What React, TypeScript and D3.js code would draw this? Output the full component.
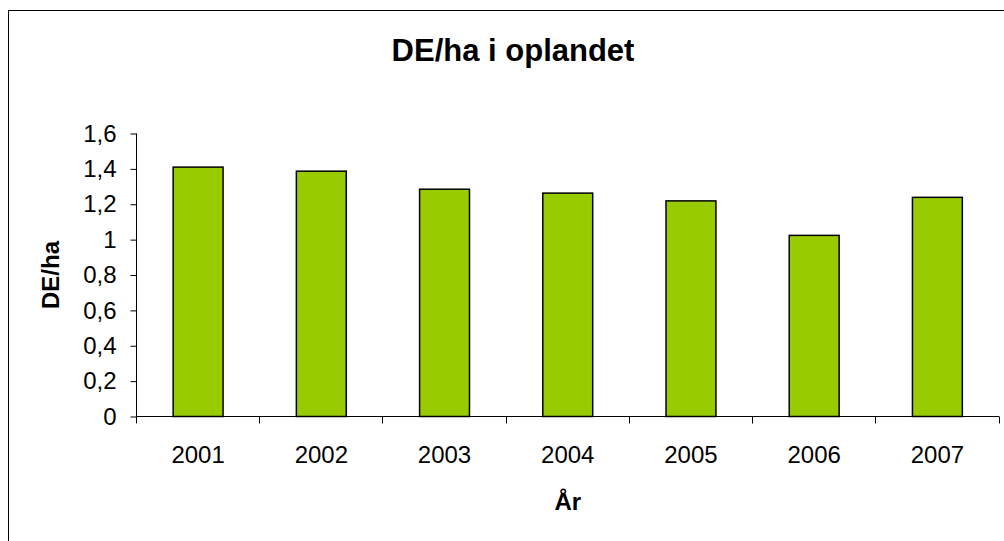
import React, { useEffect, useRef } from 'react';
import * as d3 from 'd3';

const years: string[] = ['2001', '2002', '2003', '2004', '2005', '2006', '2007'];
const values: number[] = [1.41, 1.387, 1.285, 1.263, 1.219, 1.024, 1.239];
const yTicks: number[] = [0, 0.2, 0.4, 0.6, 0.8, 1, 1.2, 1.4, 1.6];

const width = 1004;
const height = 541;

const App: React.FC = () => {
  const svgRef = useRef<SVGSVGElement | null>(null);

  useEffect(() => {
    if (!svgRef.current) return;
    const svg = d3.select(svgRef.current);
    svg.selectAll('*').remove();

    const margin = { top: 133.5, right: 5, bottom: 124.5, left: 136.5 };
    const innerWidth = width - margin.left - margin.right;
    const innerHeight = height - margin.top - margin.bottom;

    // outer chart border (runs off the right and bottom edge)
    svg
      .append('rect')
      .attr('x', 8.5)
      .attr('y', 10.5)
      .attr('width', 1000)
      .attr('height', 540)
      .attr('fill', 'none')
      .attr('stroke', '#000')
      .attr('stroke-width', 1);

    const xScale = d3
      .scaleBand<string>()
      .domain(years)
      .range([0, innerWidth])
      .paddingInner(0.595)
      .paddingOuter(0.2975);

    const yScale = d3.scaleLinear().domain([0, 1.6]).range([innerHeight, 0]);

    const g = svg.append('g').attr('transform', `translate(${margin.left},${margin.top})`);

    g.selectAll('rect.bar')
      .data(values)
      .enter()
      .append('rect')
      .attr('class', 'bar')
      .attr('x', (_d, i) => xScale(years[i])!)
      .attr('y', d => yScale(d))
      .attr('width', xScale.bandwidth())
      .attr('height', d => innerHeight - yScale(d))
      .attr('fill', '#99CC00')
      .attr('stroke', '#000')
      .attr('stroke-width', 1.5);

    const font = '"Liberation Sans", Arial, sans-serif';

    // y axis
    const yAxis = d3
      .axisLeft(yScale)
      .tickValues(yTicks)
      .tickSize(6)
      .tickPadding(14)
      .tickFormat(d => String(d).replace('.', ','));

    const yG = g.append('g').call(yAxis);
    yG.select('.domain').attr('stroke', '#000').attr('d', `M0,0V${innerHeight}`);
    yG.selectAll('.tick line').attr('stroke', '#000');
    yG.selectAll('.tick text')
      .attr('fill', '#000')
      .style('font-family', font)
      .style('font-size', '24px');

    // x axis: ticks between categories
    const step = xScale.step();
    const boundaries = d3.range(years.length + 1).map(i => i * step);
    const xG = g.append('g').attr('transform', `translate(0,${innerHeight})`);
    xG.append('line')
      .attr('x1', 0)
      .attr('x2', innerWidth)
      .attr('stroke', '#000');
    xG.selectAll('line.tick')
      .data(boundaries)
      .enter()
      .append('line')
      .attr('class', 'tick')
      .attr('x1', d => Math.round(d) )
      .attr('x2', d => Math.round(d))
      .attr('y1', 0)
      .attr('y2', 7)
      .attr('stroke', '#000');
    xG.selectAll('text.label')
      .data(years)
      .enter()
      .append('text')
      .attr('class', 'label')
      .attr('x', d => xScale(d)! + xScale.bandwidth() / 2)
      .attr('y', 46)
      .attr('text-anchor', 'middle')
      .style('font-family', font)
      .style('font-size', '24px')
      .text(d => d);

    // titles
    svg
      .append('text')
      .attr('x', 513)
      .attr('y', 61)
      .attr('text-anchor', 'middle')
      .style('font-family', font)
      .style('font-size', '31px')
      .style('font-weight', 'bold')
      .text('DE/ha i oplandet');

    svg
      .append('text')
      .attr('x', margin.left + innerWidth / 2)
      .attr('y', 510)
      .attr('text-anchor', 'middle')
      .style('font-family', font)
      .style('font-size', '24px')
      .style('font-weight', 'bold')
      .text('År');

    svg
      .append('text')
      .attr('transform', `translate(59,${margin.top + innerHeight / 2}) rotate(-90)`)
      .attr('text-anchor', 'middle')
      .style('font-family', font)
      .style('font-size', '24px')
      .style('font-weight', 'bold')
      .text('DE/ha');
  }, []);

  return (
    <div style={{ position: 'fixed', left: 0, top: 0, width, height, background: '#fff' }}>
      <svg ref={svgRef} width={width} height={height} />
    </div>
  );
};

export default App;
